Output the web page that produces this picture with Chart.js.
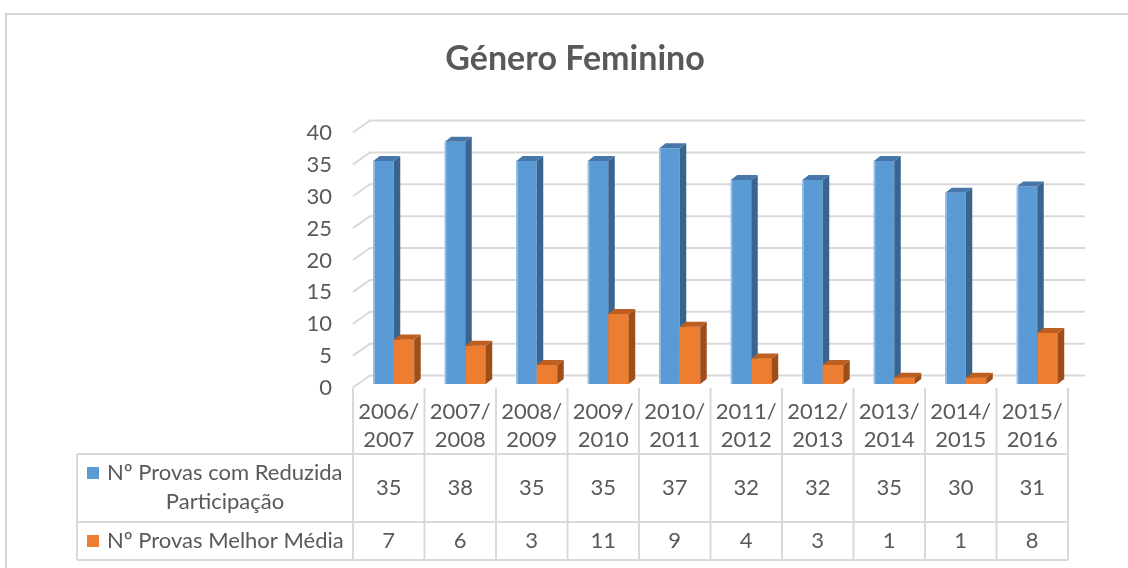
<!DOCTYPE html>
<html>
<head>
<meta charset="utf-8">
<script src="https://cdn.jsdelivr.net/npm/chart.js@4/dist/chart.umd.min.js"></script>
<style>
  html, body { margin: 0; padding: 0; background: #fff; }
  #c { display: block; }
</style>
</head>
<body>
<canvas id="c" width="1128" height="568"></canvas>
<script>
// data
const chartTitle = 'Género Feminino'
const years = [
  ['2006/', '2007'], ['2007/', '2008'], ['2008/', '2009'], ['2009/', '2010'], ['2010/', '2011'],
  ['2011/', '2012'], ['2012/', '2013'], ['2013/', '2014'], ['2014/', '2015'], ['2015/', '2016'],
]
const reduzidaLabel = ['Nº Provas com Reduzida', 'Participação']
const melhorLabel = ['Nº Provas Melhor Média']
const reduzida = [35, 38, 35, 35, 37, 32, 32, 35, 30, 31]
const melhorMedia = [7, 6, 3, 11, 9, 4, 3, 1, 1, 8]
const yTicks = { min: 0, max: 40, step: 5 }

const FONT = 'Lato, "Open Sans", sans-serif'
const TEXT = '#595959'
const GRID = '#d9d9d9'
const SHIFT = -5          // table / wall sit a little left of the bars
const DX = 6.5, DY = 5    // bar extrusion

const shades = [
  { front: '#5B9BD5', side: '#3A6490', top: '#4777A8', edge: '#9CC2E8' },
  { front: '#ED7D31', side: '#9E4E1B', top: '#BC5F20', edge: null },
]

function extrude(ctx, bar, c) {
  const { x, y, base, width } = bar.getProps(['x', 'y', 'base', 'width'], true)
  const l = x - width / 2, r = x + width / 2
  ctx.fillStyle = c.side
  ctx.beginPath()
  ctx.moveTo(r, y); ctx.lineTo(r + DX, y - DY); ctx.lineTo(r + DX, base - DY); ctx.lineTo(r, base)
  ctx.closePath(); ctx.fill()
  ctx.fillStyle = c.top
  ctx.beginPath()
  ctx.moveTo(l, y); ctx.lineTo(l + DX, y - DY); ctx.lineTo(r + DX, y - DY); ctx.lineTo(r, y)
  ctx.closePath(); ctx.fill()
  if (c.edge) {
    ctx.fillStyle = c.edge
    ctx.fillRect(l, y, 1.5, base - y)
  }
}

const look = {
  id: 'look',
  beforeDraw(chart) {
    const { ctx } = chart
    ctx.save()
    ctx.fillStyle = '#fff'
    ctx.fillRect(0, 0, chart.width, chart.height)
    ctx.strokeStyle = '#d4d4d4'
    ctx.lineWidth = 2
    ctx.beginPath()
    ctx.moveTo(6, chart.height)
    ctx.lineTo(6, 14)
    ctx.lineTo(chart.width, 14)
    ctx.stroke()
    ctx.fillStyle = TEXT
    ctx.font = `bold 34px ${FONT}`
    ctx.textAlign = 'center'
    ctx.textBaseline = 'middle'
    ctx.fillText(chartTitle, 575, 59)
    ctx.restore()
  },

  // back wall gridlines with the little slanted floor/side edge
  beforeDatasetsDraw(chart) {
    const { ctx, scales: { y }, chartArea } = chart
    const left = chartArea.left + SHIFT
    const right = chartArea.right + SHIFT
    ctx.save()
    ctx.strokeStyle = GRID
    ctx.lineWidth = 2
    y.ticks.forEach(t => {
      const py = y.getPixelForValue(t.value)
      ctx.beginPath()
      ctx.moveTo(left, py + 3.5)
      ctx.lineTo(left + 17, py - 8.5)
      ctx.lineTo(right + 17, py - 8.5)
      ctx.stroke()
    })
    ctx.restore()
  },

  // blue extrusions first, then the orange bars go back on top of them
  afterDatasetsDraw(chart) {
    const { ctx } = chart
    const blue = chart.getDatasetMeta(0)
    const orange = chart.getDatasetMeta(1)
    ctx.save()
    blue.data.forEach(bar => extrude(ctx, bar, shades[0]))
    orange.data.forEach(bar => bar.draw(ctx))
    orange.data.forEach(bar => extrude(ctx, bar, shades[1]))
    ctx.restore()
  },

  // data table under the plot
  afterDraw(chart) {
    const { ctx, scales: { x } } = chart
    const step = x.getPixelForTick(1) - x.getPixelForTick(0)
    const edges = years.map((_, i) => x.getPixelForTick(i) - step / 2 + SHIFT)
    edges.push(edges[edges.length - 1] + step)
    const centers = years.map((_, i) => x.getPixelForTick(i) + SHIFT)
    const headTop = 388, row1 = 454, row2 = 522, bottom = 560, labelLeft = 77
    const last = edges[edges.length - 1]

    ctx.save()
    ctx.strokeStyle = GRID
    ctx.lineWidth = 2
    ctx.beginPath()
    edges.forEach(ex => { ctx.moveTo(ex, headTop); ctx.lineTo(ex, bottom) })
    ctx.moveTo(labelLeft, row1); ctx.lineTo(labelLeft, bottom)
    ;[row1, row2, bottom].forEach(ry => { ctx.moveTo(labelLeft, ry); ctx.lineTo(last, ry) })
    ctx.stroke()

    ctx.fillStyle = TEXT
    ctx.font = `22px ${FONT}`
    ctx.textAlign = 'center'
    ctx.textBaseline = 'middle'
    years.forEach((yr, i) => {
      ctx.fillText(yr[0], centers[i], 412)
      ctx.fillText(yr[1], centers[i], 440)
      ctx.fillText(String(reduzida[i]), centers[i], 488)
      ctx.fillText(String(melhorMedia[i]), centers[i], 541)
    })

    // row headers with legend keys
    ctx.fillStyle = shades[0].front
    ctx.fillRect(87, 467, 12, 12)
    ctx.fillStyle = shades[1].front
    ctx.fillRect(87, 535, 12, 12)
    ctx.fillStyle = TEXT
    ctx.textAlign = 'left'
    ctx.fillText(reduzidaLabel[0], 107, 473)
    ctx.fillText(melhorLabel[0], 107, 541)
    ctx.textAlign = 'center'
    ctx.fillText(reduzidaLabel[1], 225, 502)
    ctx.restore()
  },
}

new Chart(document.getElementById('c'), {
  type: 'bar',
  data: {
    labels: years,
    datasets: [
      { label: reduzidaLabel.join(' '), data: reduzida, backgroundColor: shades[0].front,
        categoryPercentage: 0.573, barPercentage: 1 },
      { label: melhorLabel[0], data: melhorMedia, backgroundColor: shades[1].front,
        categoryPercentage: 0.573, barPercentage: 1 },
    ],
  },
  options: {
    responsive: false,
    animation: false,
    layout: { padding: { left: 0, right: 55, top: 129, bottom: 184 } },
    plugins: {
      legend: { display: false },
      tooltip: { enabled: false },
      title: { display: false },
    },
    scales: {
      x: { display: false },
      y: {
        min: yTicks.min,
        max: yTicks.max,
        ticks: { stepSize: yTicks.step, color: TEXT, font: { family: FONT, size: 22 }, padding: 26, labelOffset: 4 },
        grid: { display: false, drawTicks: false },
        border: { display: false },
        afterFit: s => { s.width = 358 },
      },
    },
  },
  plugins: [look],
})
</script>
</body>
</html>
